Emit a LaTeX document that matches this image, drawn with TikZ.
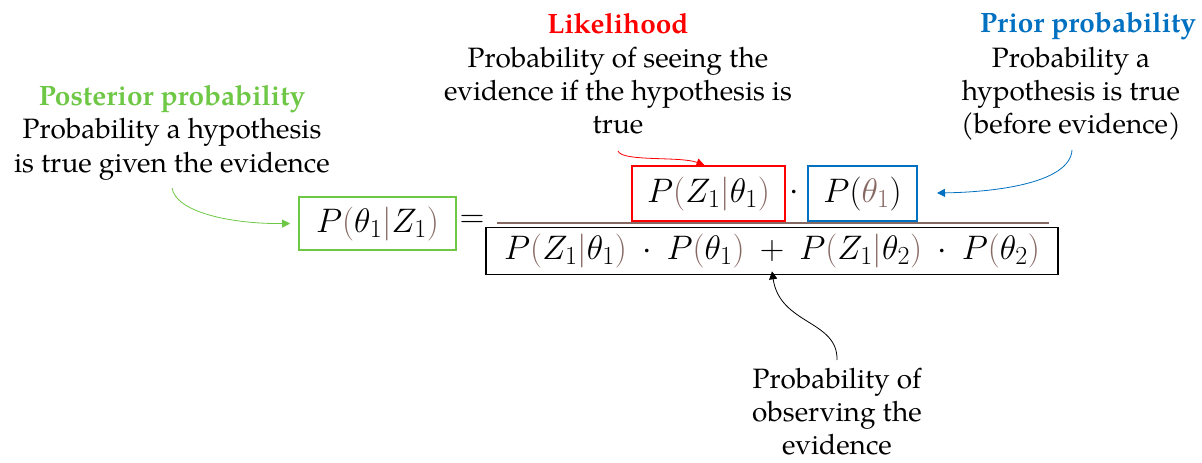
\RequirePackage{fix-cm}
\documentclass[tikz,border=0pt]{standalone}
\usepackage{fontspec}
\setmainfont{TeX Gyre Pagella}
\usepackage{xcolor}
\usetikzlibrary{arrows.meta}
\DeclareMathSizes{34}{34}{26}{20}
\definecolor{cgreen}{RGB}{110,200,70}
\definecolor{cred}{RGB}{255,0,0}
\definecolor{cblue}{RGB}{0,112,192}
\definecolor{cbrown}{RGB}{135,105,100}
\newcommand\bp[1]{\textcolor{cbrown}{#1}}
\newcommand\opdot{\mathbin{\mkern4mu\cdot\mkern4mu}}
\newcommand\opplus{\mathbin{\mkern4mu+\mkern4mu}}
\begin{document}
\begin{tikzpicture}[x=1pt,y=-1pt,
  txt/.style={anchor=base,inner sep=0pt,font=\fontsize{28}{33}\selectfont},
  ttl/.style={txt,font=\fontsize{28}{33}\selectfont\bfseries},
  mfont/.style={font=\fontsize{34}{40}\selectfont},
  mbox/.style={draw,line width=1.6pt,inner sep=0pt,mfont},
  conn/.style={line width=0.8pt,-{Triangle[length=8pt,width=8pt]}}]
\useasboundingbox (0,0) rectangle (1202,463);
% posterior
\node[ttl,text=cgreen] (postt) at (172,105) {Posterior probability};
\node[txt] (post1) at (172,138) {Probability a hypothesis};
\node[txt] (post2) at (172,172) {is true given the evidence};
% likelihood
\node[ttl,text=cred] (likt) at (618,33) {Likelihood};
\node[txt] (lik1) at (618,67) {Probability of seeing the};
\node[txt] (lik2) at (618,100) {evidence if the hypothesis is};
\node[txt] (lik3) at (618,133) {true};
% prior
\node[ttl,text=cblue] (prit) at (1088,32) {Prior probability};
\node[txt] (pri1) at (1071,67) {Probability a};
\node[txt] (pri2) at (1071,100) {hypothesis is true};
\node[txt] (pri3) at (1071,133) {(before evidence)};
% evidence
\node[txt] (ev1) at (837,388) {Probability of};
\node[txt] (ev2) at (837,421) {observing the};
\node[txt] (ev3) at (837,454) {evidence};
% formula boxes
\node[mbox,draw=cgreen,minimum width=157pt,minimum height=53pt] (gbox) at (377.5,223.5)
  {$P\bp{(}\theta_1\bp{|}Z_1\bp{)}$};
\node[inner sep=0pt,mfont] (eq) at (472,221) {$=$};
\node[mbox,draw=cred,minimum width=153pt,minimum height=55pt] (rbox) at (708.5,193.5)
  {$P\bp{(}Z_1\bp{|}\theta_1\bp{)}$};
\node[inner sep=0pt,mfont] (dot) at (794,193) {$\cdot$};
\node[mbox,draw=cblue,minimum width=109pt,minimum height=55pt] (bbox) at (862.5,193.5)
  {$P(\bp{\theta_1})$};
\node[mbox,draw=black,minimum width=572pt,minimum height=47pt] (kbox) at (772,251)
  {$P\bp{(}Z_1\bp{|}\theta_1\bp{)}\opdot P\bp{(}\theta_1\bp{)}\opplus P\bp{(}Z_1\bp{|}\theta_2\bp{)}\opdot P\bp{(}\theta_2\bp{)}$};
% fraction line
\coordinate (fl) at (497,223);
\coordinate (fr) at (1049,223);
\draw[cbrown,line width=2.6pt] (fl) -- (fr);
% connectors
\coordinate (gs) at (172,188);
\coordinate (rs) at (618,151);
\coordinate (bs) at (1072,150);
\coordinate (bt) at (937,193);
\coordinate (ks) at (837,360);
\draw[conn,cgreen] (gs) .. controls (176,212) and (230,224) .. ([xshift=-8pt]gbox.west);
\draw[conn,cred] (rs) .. controls (622,162) and (680,156) .. ([xshift=-4pt]rbox.north);
\draw[conn,cblue] (bs) .. controls (1070,182) and (1000,192) .. (bt);
\draw[conn,black] (ks) .. controls (838,320) and (780,325) .. ([yshift=4pt]kbox.south);
\end{tikzpicture}
\end{document}
